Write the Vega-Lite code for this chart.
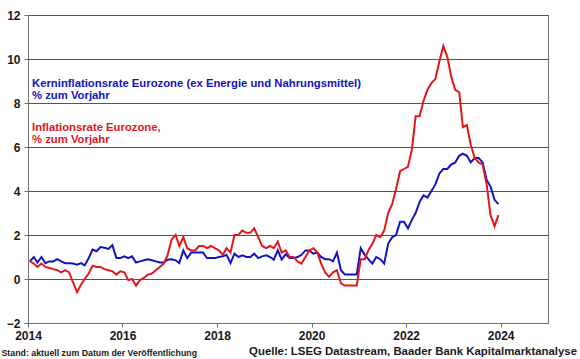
{
  "$schema": "https://vega.github.io/schema/vega-lite/v6.json",
  "width": 520,
  "height": 308,
  "autosize": {"type": "none"},
  "padding": {"left": 28, "top": 15, "right": 32, "bottom": 36},
  "background": "white",
  "config": {
    "font": "Liberation Sans",
    "view": {"stroke": "#707070", "strokeWidth": 1}
  },
  "title": {
    "text": "Quelle: LSEG Datastream, Baader Bank Kapitalmarktanalyse",
    "orient": "bottom",
    "anchor": "end",
    "frame": "group",
    "dx": 29,
    "offset": -11,
    "font": "Liberation Sans",
    "fontSize": 11.4,
    "fontWeight": "bold",
    "color": "#1a1a1a"
  },
  "datasets": {
    "rates": [
      {"date": "2014-01-15", "core": 0.8, "headline": 0.8},
      {"date": "2014-02-15", "core": 1.0, "headline": 0.7},
      {"date": "2014-03-15", "core": 0.75, "headline": 0.55},
      {"date": "2014-04-15", "core": 1.0, "headline": 0.7},
      {"date": "2014-05-15", "core": 0.72, "headline": 0.55},
      {"date": "2014-06-15", "core": 0.8, "headline": 0.5},
      {"date": "2014-07-15", "core": 0.8, "headline": 0.45},
      {"date": "2014-08-15", "core": 0.9, "headline": 0.4},
      {"date": "2014-09-15", "core": 0.8, "headline": 0.3},
      {"date": "2014-10-15", "core": 0.72, "headline": 0.4},
      {"date": "2014-11-15", "core": 0.72, "headline": 0.3},
      {"date": "2014-12-15", "core": 0.7, "headline": -0.15},
      {"date": "2015-01-15", "core": 0.65, "headline": -0.6},
      {"date": "2015-02-15", "core": 0.72, "headline": -0.25},
      {"date": "2015-03-15", "core": 0.62, "headline": 0.0},
      {"date": "2015-04-15", "core": 0.95, "headline": 0.25},
      {"date": "2015-05-15", "core": 1.34, "headline": 0.6},
      {"date": "2015-06-15", "core": 1.26, "headline": 0.55},
      {"date": "2015-07-15", "core": 1.45, "headline": 0.55},
      {"date": "2015-08-15", "core": 1.42, "headline": 0.45},
      {"date": "2015-09-15", "core": 1.37, "headline": 0.4},
      {"date": "2015-10-15", "core": 1.54, "headline": 0.35},
      {"date": "2015-11-15", "core": 0.95, "headline": 0.2},
      {"date": "2015-12-15", "core": 0.95, "headline": 0.35},
      {"date": "2016-01-15", "core": 1.03, "headline": 0.3},
      {"date": "2016-02-15", "core": 0.95, "headline": -0.05},
      {"date": "2016-03-15", "core": 1.03, "headline": 0.0},
      {"date": "2016-04-15", "core": 0.75, "headline": -0.3},
      {"date": "2016-05-15", "core": 0.8, "headline": -0.05},
      {"date": "2016-06-15", "core": 0.85, "headline": 0.05},
      {"date": "2016-07-15", "core": 0.9, "headline": 0.2},
      {"date": "2016-08-15", "core": 0.85, "headline": 0.25},
      {"date": "2016-09-15", "core": 0.8, "headline": 0.4},
      {"date": "2016-10-15", "core": 0.75, "headline": 0.55},
      {"date": "2016-11-15", "core": 0.75, "headline": 0.7},
      {"date": "2016-12-15", "core": 0.88, "headline": 1.1},
      {"date": "2017-01-15", "core": 0.9, "headline": 1.8},
      {"date": "2017-02-15", "core": 0.85, "headline": 2.0},
      {"date": "2017-03-15", "core": 0.72, "headline": 1.5},
      {"date": "2017-04-15", "core": 1.3, "headline": 1.9},
      {"date": "2017-05-15", "core": 0.95, "headline": 1.4},
      {"date": "2017-06-15", "core": 1.2, "headline": 1.3},
      {"date": "2017-07-15", "core": 1.2, "headline": 1.3},
      {"date": "2017-08-15", "core": 1.2, "headline": 1.5},
      {"date": "2017-09-15", "core": 1.2, "headline": 1.5},
      {"date": "2017-10-15", "core": 0.95, "headline": 1.4},
      {"date": "2017-11-15", "core": 0.95, "headline": 1.5},
      {"date": "2017-12-15", "core": 0.95, "headline": 1.4},
      {"date": "2018-01-15", "core": 1.0, "headline": 1.3},
      {"date": "2018-02-15", "core": 1.03, "headline": 1.1},
      {"date": "2018-03-15", "core": 1.1, "headline": 1.4},
      {"date": "2018-04-15", "core": 0.72, "headline": 1.2},
      {"date": "2018-05-15", "core": 1.15, "headline": 2.0},
      {"date": "2018-06-15", "core": 1.0, "headline": 2.0},
      {"date": "2018-07-15", "core": 1.08, "headline": 2.2},
      {"date": "2018-08-15", "core": 1.0, "headline": 2.1},
      {"date": "2018-09-15", "core": 1.0, "headline": 2.1},
      {"date": "2018-10-15", "core": 1.15, "headline": 2.3},
      {"date": "2018-11-15", "core": 0.95, "headline": 1.9},
      {"date": "2018-12-15", "core": 1.03, "headline": 1.5},
      {"date": "2019-01-15", "core": 1.08, "headline": 1.4},
      {"date": "2019-02-15", "core": 1.0, "headline": 1.5},
      {"date": "2019-03-15", "core": 0.88, "headline": 1.4},
      {"date": "2019-04-15", "core": 1.3, "headline": 1.7},
      {"date": "2019-05-15", "core": 0.88, "headline": 1.2},
      {"date": "2019-06-15", "core": 1.12, "headline": 1.3},
      {"date": "2019-07-15", "core": 0.95, "headline": 1.0},
      {"date": "2019-08-15", "core": 0.95, "headline": 1.0},
      {"date": "2019-09-15", "core": 1.0, "headline": 0.8},
      {"date": "2019-10-15", "core": 1.1, "headline": 0.7},
      {"date": "2019-11-15", "core": 1.3, "headline": 1.0},
      {"date": "2019-12-15", "core": 1.3, "headline": 1.3},
      {"date": "2020-01-15", "core": 1.15, "headline": 1.4},
      {"date": "2020-02-15", "core": 1.2, "headline": 1.2},
      {"date": "2020-03-15", "core": 1.0, "headline": 0.7},
      {"date": "2020-04-15", "core": 0.9, "headline": 0.3},
      {"date": "2020-05-15", "core": 0.9, "headline": 0.1},
      {"date": "2020-06-15", "core": 0.8, "headline": 0.3},
      {"date": "2020-07-15", "core": 1.2, "headline": 0.4},
      {"date": "2020-08-15", "core": 0.4, "headline": -0.2},
      {"date": "2020-09-15", "core": 0.2, "headline": -0.3},
      {"date": "2020-10-15", "core": 0.2, "headline": -0.3},
      {"date": "2020-11-15", "core": 0.2, "headline": -0.3},
      {"date": "2020-12-15", "core": 0.2, "headline": -0.3},
      {"date": "2021-01-15", "core": 1.4, "headline": 0.9},
      {"date": "2021-02-15", "core": 1.1, "headline": 0.9},
      {"date": "2021-03-15", "core": 0.9, "headline": 1.3},
      {"date": "2021-04-15", "core": 0.7, "headline": 1.6},
      {"date": "2021-05-15", "core": 1.0, "headline": 2.0},
      {"date": "2021-06-15", "core": 0.9, "headline": 1.9},
      {"date": "2021-07-15", "core": 0.7, "headline": 2.2},
      {"date": "2021-08-15", "core": 1.6, "headline": 3.0},
      {"date": "2021-09-15", "core": 1.9, "headline": 3.4},
      {"date": "2021-10-15", "core": 2.0, "headline": 4.1},
      {"date": "2021-11-15", "core": 2.6, "headline": 4.9},
      {"date": "2021-12-15", "core": 2.6, "headline": 5.0},
      {"date": "2022-01-15", "core": 2.3, "headline": 5.1},
      {"date": "2022-02-15", "core": 2.7, "headline": 5.9},
      {"date": "2022-03-15", "core": 3.0, "headline": 7.4},
      {"date": "2022-04-15", "core": 3.5, "headline": 7.4},
      {"date": "2022-05-15", "core": 3.8, "headline": 8.1},
      {"date": "2022-06-15", "core": 3.7, "headline": 8.6},
      {"date": "2022-07-15", "core": 4.0, "headline": 8.9},
      {"date": "2022-08-15", "core": 4.3, "headline": 9.1},
      {"date": "2022-09-15", "core": 4.8, "headline": 9.9},
      {"date": "2022-10-15", "core": 5.0, "headline": 10.6},
      {"date": "2022-11-15", "core": 5.0, "headline": 10.1},
      {"date": "2022-12-15", "core": 5.2, "headline": 9.2},
      {"date": "2023-01-15", "core": 5.3, "headline": 8.6},
      {"date": "2023-02-15", "core": 5.6, "headline": 8.5},
      {"date": "2023-03-15", "core": 5.7, "headline": 6.9},
      {"date": "2023-04-15", "core": 5.6, "headline": 7.0},
      {"date": "2023-05-15", "core": 5.3, "headline": 6.1},
      {"date": "2023-06-15", "core": 5.5, "headline": 5.5},
      {"date": "2023-07-15", "core": 5.5, "headline": 5.3},
      {"date": "2023-08-15", "core": 5.3, "headline": 5.2},
      {"date": "2023-09-15", "core": 4.5, "headline": 4.3},
      {"date": "2023-10-15", "core": 4.2, "headline": 2.9},
      {"date": "2023-11-15", "core": 3.6, "headline": 2.4},
      {"date": "2023-12-15", "core": 3.4, "headline": 2.9}
    ],
    "labels": [
      {"date": "2014-02-01", "value": 8.73, "series": "core", "text": "Kerninflationsrate Eurozone (ex Energie und Nahrungsmittel)\n% zum Vorjahr"},
      {"date": "2014-02-01", "value": 6.75, "series": "headline", "text": "Inflationsrate Eurozone,\n% zum Vorjahr"}
    ]
  },
  "encoding": {
    "x": {
      "field": "date",
      "type": "temporal",
      "scale": {"domain": ["2014-01-01", "2025-01-01"]},
      "axis": {
        "format": "%Y",
        "tickCount": {"interval": "year", "step": 2},
        "grid": false,
        "domainColor": "#707070",
        "tickColor": "#707070",
        "tickSize": 4,
        "labelFont": "Liberation Sans",
        "labelFontSize": 12,
        "labelFontWeight": "bold",
        "labelColor": "#1a1a1a",
        "labelPadding": 3,
        "labelFlush": false,
        "title": "Stand: aktuell zum Datum der Veröffentlichung",
        "titleFont": "Liberation Sans",
        "titleFontSize": 8.8,
        "titleFontWeight": "bold",
        "titleColor": "#1a1a1a",
        "titleAlign": "left",
        "titleAnchor": "start",
        "titleBaseline": "alphabetic",
        "titleX": -27,
        "titleY": 32
      }
    }
  },
  "layer": [
    {
      "data": {"name": "rates"},
      "mark": {"type": "line", "color": "#1212C4", "strokeWidth": 2},
      "encoding": {
        "y": {
          "field": "core",
          "type": "quantitative",
          "scale": {"domain": [-2, 12], "nice": false},
          "axis": {
            "values": [-2, 0, 2, 4, 6, 8, 10, 12],
            "grid": true,
            "gridColor": "#555555",
            "gridOpacity": 1,
            "gridWidth": 1,
            "domainColor": "#707070",
            "tickColor": "#707070",
            "tickSize": 4,
            "labelFont": "Liberation Sans",
            "labelFontSize": 12,
            "labelFontWeight": "bold",
            "labelColor": "#1a1a1a",
            "labelPadding": 4,
            "title": null
          }
        }
      }
    },
    {
      "data": {"name": "rates"},
      "mark": {"type": "line", "color": "#E3161C", "strokeWidth": 2},
      "encoding": {
        "y": {"field": "headline", "type": "quantitative"}
      }
    },
    {
      "data": {"name": "labels"},
      "transform": [{"filter": "datum.series == 'core'"}],
      "mark": {"type": "text", "align": "left", "baseline": "alphabetic", "lineBreak": "\n", "lineHeight": 12.5, "font": "Liberation Sans", "fontSize": 11.3, "fontWeight": "bold", "color": "#1212C4"},
      "encoding": {
        "y": {"field": "value", "type": "quantitative"},
        "text": {"field": "text"}
      }
    },
    {
      "data": {"name": "labels"},
      "transform": [{"filter": "datum.series == 'headline'"}],
      "mark": {"type": "text", "align": "left", "baseline": "alphabetic", "lineBreak": "\n", "lineHeight": 12, "font": "Liberation Sans", "fontSize": 11.3, "fontWeight": "bold", "color": "#E3161C"},
      "encoding": {
        "y": {"field": "value", "type": "quantitative"},
        "text": {"field": "text"}
      }
    }
  ]
}
